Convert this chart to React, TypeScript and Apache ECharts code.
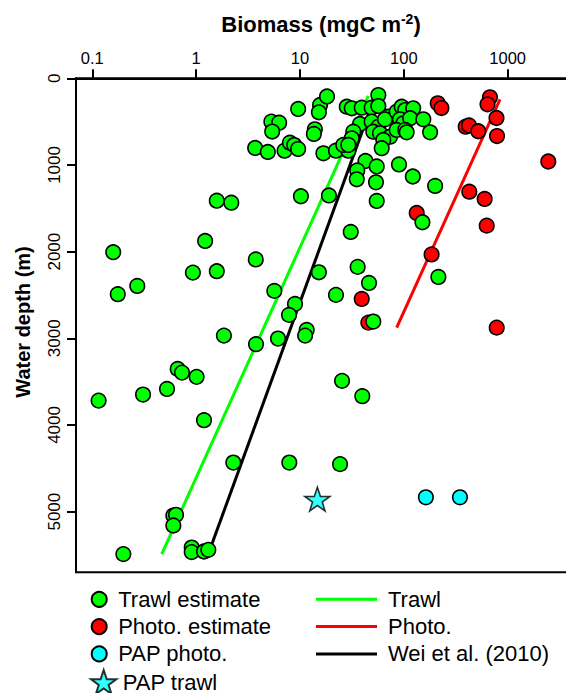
import React, { useEffect, useRef } from "react";
import * as echarts from "echarts";

// ---- Data (biomass in mgC m^-2, depth in m) ----
const trawlBiomass = [
  3.7, 4.9, 5.3, 6.3, 5.4, 7.1, 8.0, 8.8, 9.6, 9.6, 13.9, 13.6, 15.6, 15.2, 18.2, 16.8,
  22.2, 29.2, 28.2, 31.5, 39.3, 49, 56.8, 56.8, 37.8, 49, 56.8, 50.8, 58.9, 73.6, 32.6,
  31.5, 26.1, 29.2, 63.4, 61.2, 70.9, 65.8, 85.3, 95.3, 103, 123, 91.8, 98.8, 115, 154,
  85.3, 103, 106.5, 179, 42.7, 54.8, 35.6, 35.2, 53.9, 54.8, 89.8, 122, 200, 19.0, 10.2,
  30.8, 151, 1.58, 2.18, 1.22, 0.159, 3.75, 0.93, 1.58, 0.176, 0.271, 5.66, 8.95, 7.84,
  11.6, 11.2, 15.2, 35.9, 46.2, 22.2, 50.8, 1.85, 3.77, 6.14, 0.664, 0.731, 1.01, 0.524,
  0.308, 0.115, 1.19, 25.4, 39.8, 215, 2.28, 7.89, 24.3, 0.603, 0.64, 0.603, 0.199, 0.906,
  0.906, 1.19, 1.31,
];
const trawlDepth = [
  804, 850, 500, 512, 614, 835, 743, 770, 815, 354, 588, 642, 308, 392, 210, 865,
  835, 835, 328, 346, 339, 339, 193, 320, 527, 500, 558, 616, 634, 674, 616,
  692, 769, 769, 712, 807, 443, 473, 385, 328, 366, 346, 473, 519, 461, 473,
  596, 596, 623, 623, 954, 1017, 1063, 1165, 1200, 1415, 994, 1133, 1242, 1352, 1361,
  1773, 1661, 1412, 1435, 1877, 2007, 2090, 2242, 2226, 2491, 2396, 2453, 2603, 2730,
  2903, 2969, 2238, 2176, 2361, 2499, 2807, 2969, 3068, 3003, 3353, 3396, 3445, 3584,
  3649, 3719, 3945, 3491, 3668, 2292, 4434, 4434, 4452, 5045, 5037, 5160, 5490, 5414,
  5467, 5460, 5441,
];
const photoBiomass = [212, 230, 675, 639, 780, 394, 424, 521, 789, 2460, 427, 600, 628, 133, 185, 39.3, 45.5, 784];
const photoDepth = [288, 343, 219, 300, 458, 558, 544, 611, 666, 960, 1308, 1392, 1700, 1554, 2032, 2546, 2819, 2877];
const papPhotoBiomass = [163, 347];
const papPhotoDepth = [4835, 4835];
const papTrawlBiomass = [14.7];
const papTrawlDepth = [4856];

// fitted lines (end points)
const trawlFitBiomass = [0.466, 45.5];
const trawlFitDepth = [5490, 204];
const photoFitBiomass = [85.3, 843];
const photoFitDepth = [2877, 242];
const weiFitBiomass = [1.41, 46.5];
const weiFitDepth = [5383, 390];

const depthTicks = [0, 1000, 2000, 3000, 4000, 5000];

const FONT = '"Liberation Sans", Arial, Helvetica, sans-serif';
const X_MIN = 0.06966;
const X_MAX = 7742;

const zip = (a: number[], b: number[]) => a.map((v, i) => [v, b[i]]);

const STAR =
  "path://M50,0 L61.8,35.1 L98.1,35.1 L68.8,56.8 L79.4,91 L50,70 L20.6,91 L31.2,56.8 L1.9,35.1 L38.2,35.1 Z";

export default function App() {
  const ref = useRef<HTMLDivElement>(null);
  useEffect(() => {
    if (!ref.current) return;
    const chart = echarts.init(ref.current, null, { renderer: "svg" });
    const pointStyle = (c: string) => ({ color: c, borderColor: "#000", borderWidth: 1.6, opacity: 1 });
    const legendText = { fontSize: 22, lineHeight: 22, color: "#000", fontFamily: FONT };
    chart.setOption({
      animation: false,
      textStyle: { fontFamily: FONT },
      grid: {
        left: 76,
        top: 78.3,
        width: 524,
        height: 494,
        show: true,
        borderColor: "#000",
        borderWidth: 2,
        containLabel: false,
        outerBoundsMode: "none",
      },
      xAxis: {
        type: "log",
        logBase: 10,
        position: "top",
        min: X_MIN,
        max: X_MAX,
        axisLine: { show: true, lineStyle: { color: "#000", width: 2 } },
        axisTick: { show: true, length: 9, lineStyle: { color: "#000", width: 2 } },
        minorTick: { show: false },
        splitLine: { show: false },
        axisLabel: {
          color: "#000",
          fontSize: 16.5,
          fontFamily: FONT,
          margin: 12,
          showMinLabel: false,
          showMaxLabel: false,
          formatter: (v: number) => String(+v.toPrecision(6)),
        },
      },
      yAxis: {
        type: "value",
        inverse: true,
        min: 0,
        max: 5700,
        axisLine: { show: true, lineStyle: { color: "#000", width: 2 } },
        axisTick: { show: true, length: 9, customValues: depthTicks, lineStyle: { color: "#000", width: 2 } },
        splitLine: { show: false },
        axisLabel: {
          color: "#000",
          fontSize: 17,
          fontFamily: FONT,
          rotate: 90,
          margin: 13,
          customValues: depthTicks,
          formatter: (v: number) => String(v),
        },
      },
      legend: [
        {
          data: ["Trawl estimate", "Photo. estimate", "PAP photo."],
          orient: "vertical",
          left: 90.7,
          top: 588.3,
          itemWidth: 28,
          itemHeight: 15,
          itemGap: 5.3,
          padding: 0,
          selectedMode: false,
          textStyle: legendText,
        },
        {
          data: ["PAP trawl"],
          orient: "vertical",
          left: 90,
          top: 669,
          itemWidth: 28,
          itemHeight: 24,
          padding: 0,
          selectedMode: false,
          textStyle: legendText,
        },
        {
          data: [
            { name: "Trawl", icon: "rect" },
            { name: "Photo.", icon: "rect" },
            { name: "Wei et al. (2010)", icon: "rect" },
          ],
          orient: "vertical",
          left: 316,
          top: 588.3,
          itemWidth: 61,
          itemHeight: 3,
          itemGap: 5.3,
          padding: 0,
          selectedMode: false,
          textStyle: { ...legendText, padding: [0, 0, 0, 6] },
        },
      ],
      graphic: [
        {
          type: "text",
          x: 321,
          y: 24,
          style: {
            text: "{a|Biomass (mgC m}{s|-2}{a|)}",
            align: "center",
            verticalAlign: "middle",
            rich: {
              a: { fontSize: 22, fontWeight: "bold", fontFamily: FONT, fill: "#000", lineHeight: 24 },
              s: { fontSize: 14, fontWeight: "bold", fontFamily: FONT, fill: "#000", lineHeight: 14, verticalAlign: "top" },
            },
          },
        },
        {
          type: "text",
          x: 22.5,
          y: 322,
          rotation: Math.PI / 2,
          style: {
            text: "Water depth (m)",
            fontSize: 20,
            fontWeight: "bold",
            fontFamily: FONT,
            fill: "#000",
            align: "center",
            verticalAlign: "middle",
          },
        },
      ],
      series: [
        {
          name: "Trawl",
          type: "line",
          data: zip(trawlFitBiomass, trawlFitDepth),
          symbol: "none",
          lineStyle: { color: "#00FF00", width: 3 },
          itemStyle: { color: "#00FF00" },
          z: 1,
        },
        {
          name: "Photo.",
          type: "line",
          data: zip(photoFitBiomass, photoFitDepth),
          symbol: "none",
          lineStyle: { color: "#FF0000", width: 3 },
          itemStyle: { color: "#FF0000" },
          z: 1,
        },
        {
          name: "Wei et al. (2010)",
          type: "line",
          data: zip(weiFitBiomass, weiFitDepth),
          symbol: "none",
          lineStyle: { color: "#000000", width: 3 },
          itemStyle: { color: "#000000" },
          z: 1,
        },
        {
          name: "Photo. estimate",
          type: "scatter",
          data: zip(photoBiomass, photoDepth),
          symbol: "circle",
          symbolSize: 14.5,
          itemStyle: pointStyle("#FF0000"),
          z: 2,
        },
        {
          name: "Trawl estimate",
          type: "scatter",
          data: zip(trawlBiomass, trawlDepth),
          symbol: "circle",
          symbolSize: 14.5,
          itemStyle: pointStyle("#00FF00"),
          z: 3,
        },
        {
          name: "PAP photo.",
          type: "scatter",
          data: zip(papPhotoBiomass, papPhotoDepth),
          symbol: "circle",
          symbolSize: 14.5,
          itemStyle: pointStyle("#00FFFF"),
          z: 3,
        },
        {
          name: "PAP trawl",
          type: "scatter",
          data: zip(papTrawlBiomass, papTrawlDepth),
          symbol: STAR,
          symbolSize: 25,
          symbolKeepAspect: true,
          itemStyle: { color: "#00FFFF", borderColor: "#000", borderWidth: 1.6 },
          z: 3,
        },
      ],
    });
    return () => chart.dispose();
  }, []);
  return (
    <div
      style={{
        position: "fixed",
        left: 0,
        top: 0,
        width: 566,
        height: 693,
        overflow: "hidden",
        background: "#fff",
      }}
    >
      <div ref={ref} style={{ width: 620, height: 693 }} />
    </div>
  );
}
